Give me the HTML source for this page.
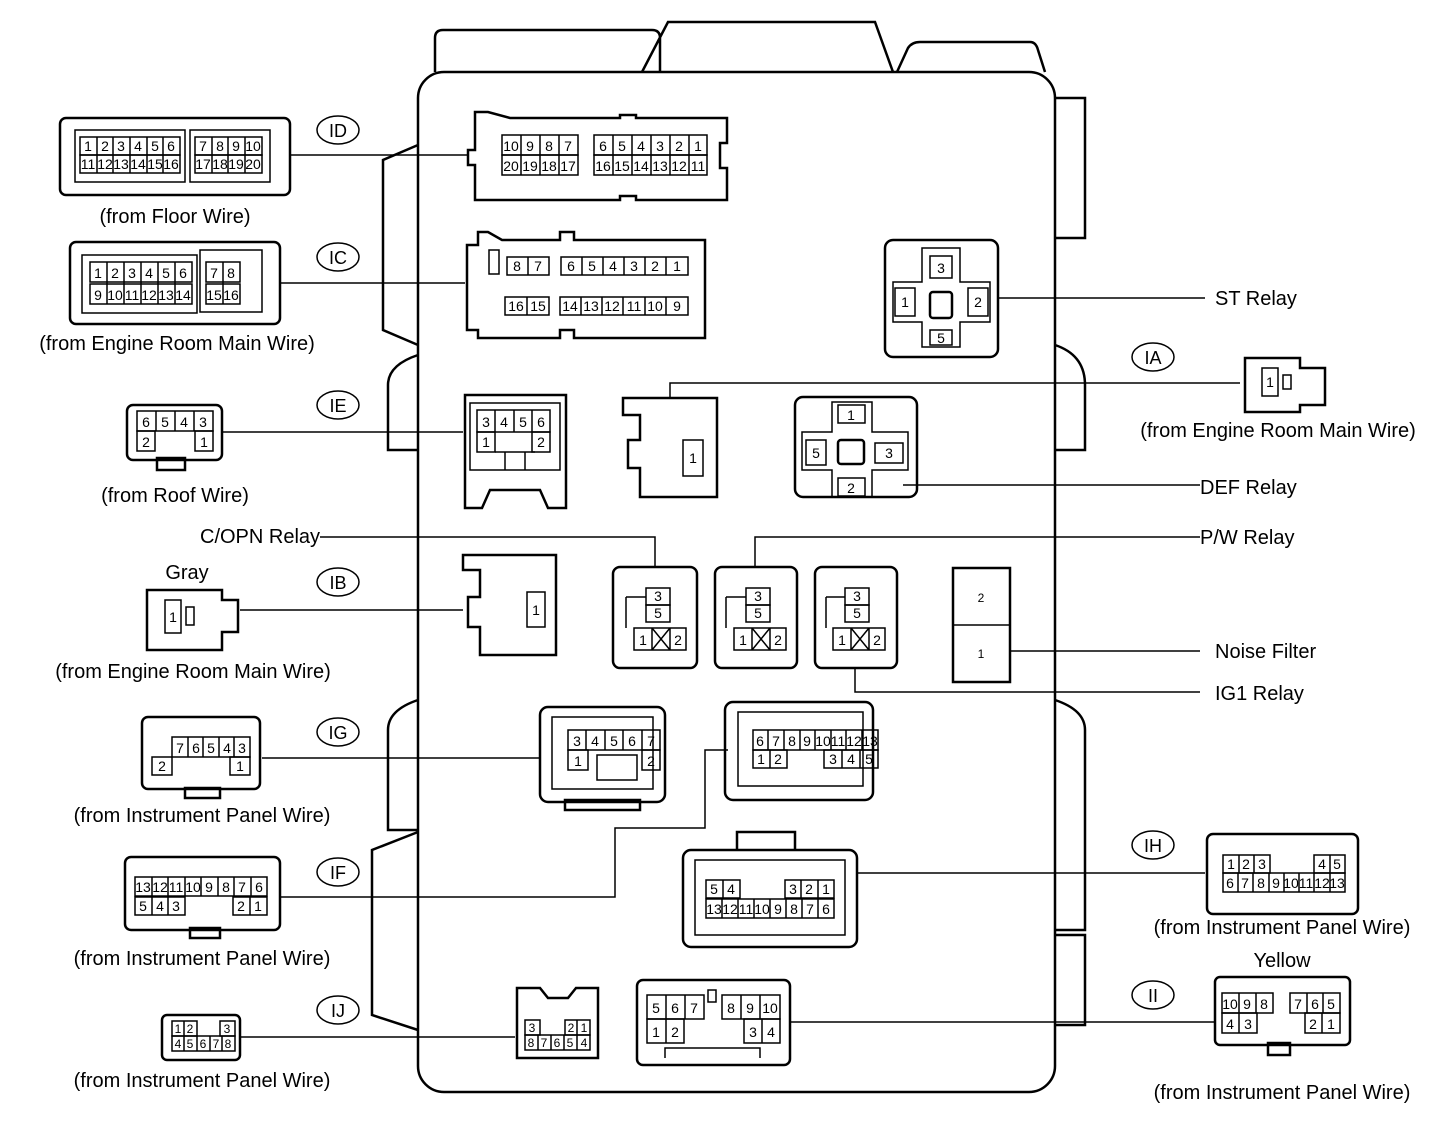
<!DOCTYPE html>
<html><head><meta charset="utf-8"><style>
html,body{margin:0;padding:0;background:#fff}
svg{display:block}
text{font-family:"Liberation Sans",sans-serif;fill:#000}
.l{font-size:20px}
.c{font-size:14px;text-anchor:middle}
.s{fill:none;stroke:#000;stroke-width:2.5}
.t{fill:none;stroke:#000;stroke-width:1.5}
.w{fill:#fff;stroke:#000;stroke-width:2}
</style></head><body>
<svg width="1456" height="1146" viewBox="0 0 1456 1146" xmlns="http://www.w3.org/2000/svg">
<path class="s" d="M435,72 V38 q0,-8 8,-8 H652 q8,0 8,8 V72 M642,72 L668,22 H875 L893,72 M897,72 L908,48 q4,-6 12,-6 H1030 q6,0 8,8 L1045,72"/>
<rect class="s" x="418" y="72" width="637" height="1020" rx="26"/>
<path class="s" d="M1055,98 H1085 V238 H1055 M1055,345 q30,10 30,40 V450 H1055 M1055,700 q30,10 30,30 V930 H1055 M1055,935 H1085 V1025 H1055"/>
<path class="s" d="M418,145 L383,160 V330 L418,345 M418,355 q-30,10 -30,30 V450 H418 M418,700 q-30,10 -30,30 V830 H418 M418,832 L372,850 V1015 L418,1030"/>
<g class="t"><ellipse cx="338" cy="130" rx="21" ry="14"/><ellipse cx="338" cy="257" rx="21" ry="14"/><ellipse cx="338" cy="405" rx="21" ry="14"/><ellipse cx="338" cy="582" rx="21" ry="14"/><ellipse cx="338" cy="732" rx="21" ry="14"/><ellipse cx="338" cy="872" rx="21" ry="14"/><ellipse cx="338" cy="1010" rx="21" ry="14"/><ellipse cx="1153" cy="357" rx="21" ry="14"/><ellipse cx="1153" cy="845" rx="21" ry="14"/><ellipse cx="1153" cy="995" rx="21" ry="14"/></g>
<g style="font-size:18px" text-anchor="middle"><text x="338" y="137">ID</text><text x="338" y="264">IC</text><text x="338" y="412">IE</text><text x="338" y="589">IB</text><text x="338" y="739">IG</text><text x="338" y="879">IF</text><text x="338" y="1017">IJ</text><text x="1153" y="364">IA</text><text x="1153" y="852">IH</text><text x="1153" y="1002">II</text></g>
<g class="t">
<path d="M290,155 H468 M280,283 H465 M222,432 H463 M240,610 H463 M262,758 H540 M280,897 H615 V828 H705 V750 H728 M240,1037 H515 M998,298 H1205 M1240,383 H670 V398 M903,485 H1200 M320,537 H655 V567 M1200,537 H755 V567 M1010,651 H1200 M855,668 V692 H1200 M857,873 H1205 M790,1022 H1215"/>
</g>
<g class="l">
<text x="175" y="223" text-anchor="middle">(from Floor Wire)</text>
<text x="177" y="350" text-anchor="middle">(from Engine Room Main Wire)</text>
<text x="1215" y="305">ST Relay</text>
<text x="1278" y="437" text-anchor="middle">(from Engine Room Main Wire)</text>
<text x="175" y="502" text-anchor="middle">(from Roof Wire)</text>
<text x="1200" y="494">DEF Relay</text>
<text x="200" y="543">C/OPN Relay</text>
<text x="1200" y="544">P/W Relay</text>
<text x="187" y="579" text-anchor="middle">Gray</text>
<text x="193" y="678" text-anchor="middle">(from Engine  Room Main Wire)</text>
<text x="1215" y="658">Noise Filter</text>
<text x="1215" y="700">IG1 Relay</text>
<text x="202" y="822" text-anchor="middle">(from Instrument Panel Wire)</text>
<text x="202" y="965" text-anchor="middle">(from Instrument Panel Wire)</text>
<text x="1282" y="934" text-anchor="middle">(from Instrument Panel Wire)</text>
<text x="1282" y="967" text-anchor="middle">Yellow</text>
<text x="202" y="1087" text-anchor="middle">(from Instrument Panel Wire)</text>
<text x="1282" y="1099" text-anchor="middle">(from Instrument Panel Wire)</text>
</g>

<rect class="s" x="60" y="118" width="230" height="77" rx="6"/>
<rect class="t" x="75" y="130" width="110" height="52"/><rect class="t" x="190" y="130" width="80" height="52"/>
<g class="t">
<rect x="80" y="137" width="100" height="18"/><rect x="80" y="155" width="100" height="18"/>
<path d="M97,137V173M113,137V173M130,137V173M147,137V173M163,137V173"/>
<rect x="195" y="137" width="67" height="18"/><rect x="195" y="155" width="67" height="18"/>
<path d="M212,137V173M228,137V173M245,137V173"/></g>
<g class="c"><text x="88" y="151">1</text><text x="105" y="151">2</text><text x="121" y="151">3</text><text x="138" y="151">4</text><text x="155" y="151">5</text><text x="171" y="151">6</text>
<text x="88" y="169">11</text><text x="105" y="169">12</text><text x="121" y="169">13</text><text x="138" y="169">14</text><text x="155" y="169">15</text><text x="171" y="169">16</text>
<text x="203" y="151">7</text><text x="220" y="151">8</text><text x="236" y="151">9</text><text x="253" y="151">10</text>
<text x="203" y="169">17</text><text x="220" y="169">18</text><text x="236" y="169">19</text><text x="253" y="169">20</text></g>

<path class="s" d="M475,112 H488 L510,118 H620 V115 H636 V118 H727 V143 H720 V168 H727 V200 H636 V196 H620 V200 H475 V165 H468 V150 H475 Z"/>
<g class="t"><rect x="502" y="135" width="76" height="20"/><rect x="502" y="155" width="76" height="20"/><path d="M521,135V175M540,135V175M559,135V175"/>
<rect x="594" y="135" width="113" height="20"/><rect x="594" y="155" width="113" height="20"/><path d="M613,135V175M632,135V175M651,135V175M670,135V175M689,135V175"/></g>
<g class="c"><text x="511" y="151">10</text><text x="530" y="151">9</text><text x="549" y="151">8</text><text x="568" y="151">7</text>
<text x="511" y="171">20</text><text x="530" y="171">19</text><text x="549" y="171">18</text><text x="568" y="171">17</text>
<text x="603" y="151">6</text><text x="622" y="151">5</text><text x="641" y="151">4</text><text x="660" y="151">3</text><text x="679" y="151">2</text><text x="698" y="151">1</text>
<text x="603" y="171">16</text><text x="622" y="171">15</text><text x="641" y="171">14</text><text x="660" y="171">13</text><text x="679" y="171">12</text><text x="698" y="171">11</text></g>

<rect class="s" x="70" y="242" width="210" height="82" rx="6"/>
<rect class="t" x="82" y="255" width="115" height="58"/><rect class="t" x="200" y="250" width="62" height="62"/>
<g class="t"><rect x="90" y="262" width="102" height="20"/><rect x="90" y="284" width="102" height="20"/><path d="M107,262V304M124,262V304M141,262V304M158,262V304M175,262V304"/>
<rect x="206" y="262" width="34" height="20"/><rect x="206" y="284" width="34" height="20"/><path d="M223,262V304"/></g>
<g class="c"><text x="98" y="278">1</text><text x="115" y="278">2</text><text x="132" y="278">3</text><text x="149" y="278">4</text><text x="166" y="278">5</text><text x="183" y="278">6</text>
<text x="98" y="300">9</text><text x="115" y="300">10</text><text x="132" y="300">11</text><text x="149" y="300">12</text><text x="166" y="300">13</text><text x="183" y="300">14</text>
<text x="214" y="278">7</text><text x="231" y="278">8</text><text x="214" y="300">15</text><text x="231" y="300">16</text></g>

<path class="s" d="M467,245 H478 V232 H488 L502,240 H560 V232 H574 V240 H705 V338 H574 V330 H560 V338 H478 V330 H467 Z"/>
<g class="t"><rect x="489" y="250" width="10" height="24"/><rect x="507" y="257" width="42" height="18"/><path d="M528,257V275"/>
<rect x="561" y="257" width="127" height="18"/><path d="M582,257V275M603,257V275M624,257V275M645,257V275M666,257V275"/>
<rect x="505" y="297" width="44" height="18"/><path d="M527,297V315"/>
<rect x="560" y="297" width="128" height="18"/><path d="M581,297V315M602,297V315M623,297V315M645,297V315M666,297V315"/></g>
<g class="c"><text x="517" y="271">8</text><text x="538" y="271">7</text><text x="571" y="271">6</text><text x="592" y="271">5</text><text x="613" y="271">4</text><text x="634" y="271">3</text><text x="655" y="271">2</text><text x="677" y="271">1</text>
<text x="516" y="311">16</text><text x="538" y="311">15</text><text x="570" y="311">14</text><text x="591" y="311">13</text><text x="612" y="311">12</text><text x="634" y="311">11</text><text x="655" y="311">10</text><text x="677" y="311">9</text></g>

<rect class="s" x="885" y="240" width="113" height="117" rx="8"/>
<path class="t" d="M922,248 H960 V282 H990 V322 H960 V347 H922 V322 H893 V282 H922 Z"/>
<rect class="t" x="930" y="256" width="22" height="22"/><rect class="t" x="895" y="288" width="20" height="28"/><rect class="t" x="968" y="288" width="20" height="28"/><rect class="t" x="930" y="330" width="22" height="15"/>
<rect class="s" x="930" y="292" width="22" height="26" rx="3"/>
<g class="c"><text x="941" y="273">3</text><text x="905" y="307">1</text><text x="978" y="307">2</text><text x="941" y="343">5</text></g>

<path class="s" d="M1245,358 H1300 V368 H1325 V405 H1300 V412 H1245 Z"/>
<rect class="t" x="1262" y="368" width="16" height="28"/><rect class="t" x="1283" y="375" width="8" height="14"/>
<text class="c" x="1270" y="387">1</text>

<rect class="s" x="127" y="405" width="95" height="55" rx="6"/><rect class="s" x="157" y="458" width="28" height="12"/>
<g class="t"><rect x="137" y="411" width="76" height="20"/><path d="M156,411V431M175,411V431M194,411V431"/><rect x="137" y="431" width="18" height="20"/><rect x="195" y="431" width="18" height="20"/></g>
<g class="c"><text x="146" y="427">6</text><text x="165" y="427">5</text><text x="184" y="427">4</text><text x="203" y="427">3</text><text x="146" y="447">2</text><text x="204" y="447">1</text></g>

<path class="s" d="M465,395 H566 V508 H548 L540,490 H490 L482,508 H465 Z"/>
<path class="t" d="M470,403 H560 V470 H470 Z M505,452 V470 M525,452 V470 M495,452 H535"/>
<g class="t"><rect x="477" y="410" width="73" height="22"/><path d="M495,410V432M514,410V432M532,410V432"/><rect x="477" y="432" width="18" height="20"/><rect x="532" y="432" width="18" height="20"/></g>
<g class="c"><text x="486" y="427">3</text><text x="504" y="427">4</text><text x="523" y="427">5</text><text x="541" y="427">6</text><text x="486" y="447">1</text><text x="541" y="447">2</text></g>

<path class="s" d="M623,398 H717 V497 H640 V468 H628 V440 H640 V415 H623 Z"/>
<rect class="t" x="683" y="440" width="20" height="36"/><text class="c" x="693" y="463">1</text>

<rect class="s" x="795" y="397" width="122" height="100" rx="8"/>
<path class="t" d="M832,402 H872 V432 H908 V470 H872 V497 H832 V470 H802 V432 H832 Z"/>
<rect class="t" x="838" y="405" width="27" height="18"/><rect class="t" x="806" y="440" width="20" height="25"/><rect class="t" x="875" y="443" width="28" height="20"/><rect class="t" x="838" y="478" width="27" height="18"/>
<rect class="s" x="838" y="440" width="26" height="24" rx="3"/>
<g class="c"><text x="851" y="420">1</text><text x="816" y="458">5</text><text x="889" y="458">3</text><text x="851" y="493">2</text></g>

<path class="s" d="M147,590 H222 V600 H238 V632 H222 V650 H147 Z"/>
<rect class="t" x="165" y="600" width="16" height="33"/><rect class="t" x="186" y="607" width="8" height="18"/>
<text class="c" x="173" y="622">1</text>

<path class="s" d="M463,555 H556 V655 H480 V627 H468 V597 H480 V570 H463 Z"/>
<rect class="t" x="527" y="592" width="18" height="35"/><text class="c" x="536" y="615">1</text>

<g>
<rect class="s" x="613" y="567" width="84" height="101" rx="7"/>
<rect class="t" x="646" y="588" width="24" height="17"/><rect class="t" x="646" y="605" width="24" height="17"/>
<rect class="t" x="634" y="628" width="52" height="22"/><path class="t" d="M652,628V650M670,628V650M652,628L670,650M670,628L652,650"/>
<path class="t" d="M626,597H646M626,597V628"/>
<g class="c"><text x="658" y="601">3</text><text x="658" y="618">5</text><text x="643" y="645">1</text><text x="678" y="645">2</text></g>
</g>
<g>
<rect class="s" x="715" y="567" width="82" height="101" rx="7"/>
<rect class="t" x="746" y="588" width="24" height="17"/><rect class="t" x="746" y="605" width="24" height="17"/>
<rect class="t" x="734" y="628" width="52" height="22"/><path class="t" d="M752,628V650M770,628V650M752,628L770,650M770,628L752,650"/>
<path class="t" d="M726,597H746M726,597V628"/>
<g class="c"><text x="758" y="601">3</text><text x="758" y="618">5</text><text x="743" y="645">1</text><text x="778" y="645">2</text></g>
</g>
<g>
<rect class="s" x="815" y="567" width="82" height="101" rx="7"/>
<rect class="t" x="845" y="588" width="24" height="17"/><rect class="t" x="845" y="605" width="24" height="17"/>
<rect class="t" x="833" y="628" width="52" height="22"/><path class="t" d="M851,628V650M869,628V650M851,628L869,650M869,628L851,650"/>
<path class="t" d="M826,597H845M826,597V628"/>
<g class="c"><text x="857" y="601">3</text><text x="857" y="618">5</text><text x="842" y="645">1</text><text x="877" y="645">2</text></g>
</g>

<rect class="s" x="953" y="568" width="57" height="114"/><path class="t" d="M953,625H1010"/>
<g class="c" style="font-size:12px"><text x="981" y="602">2</text><text x="981" y="658">1</text></g>

<rect class="s" x="142" y="717" width="118" height="72" rx="6"/><rect class="s" x="185" y="788" width="35" height="10"/>
<g class="t"><rect x="172" y="737" width="78" height="20"/><path d="M188,737V757M203,737V757M219,737V757M234,737V757"/><rect x="152" y="757" width="20" height="18"/><rect x="230" y="757" width="20" height="18"/></g>
<g class="c"><text x="180" y="753">7</text><text x="196" y="753">6</text><text x="211" y="753">5</text><text x="227" y="753">4</text><text x="242" y="753">3</text><text x="162" y="771">2</text><text x="240" y="771">1</text></g>

<rect class="s" x="540" y="707" width="125" height="95" rx="8"/><rect class="s" x="565" y="800" width="75" height="10"/>
<rect class="t" x="552" y="717" width="101" height="72"/>
<g class="t"><rect x="568" y="730" width="92" height="20"/><path d="M586,730V750M605,730V750M623,730V750M642,730V750"/><rect x="568" y="750" width="20" height="20"/><rect x="642" y="750" width="18" height="20"/><rect x="597" y="755" width="40" height="25"/></g>
<g class="c"><text x="577" y="746">3</text><text x="595" y="746">4</text><text x="614" y="746">5</text><text x="632" y="746">6</text><text x="651" y="746">7</text><text x="578" y="766">1</text><text x="651" y="766">2</text></g>

<rect class="s" x="725" y="702" width="148" height="98" rx="8"/>
<rect class="t" x="738" y="712" width="125" height="74"/>
<g class="t"><rect x="753" y="730" width="125" height="20"/><path d="M768,730V750M784,730V750M800,730V750M815,730V750M831,730V750M846,730V750M862,730V750"/>
<rect x="753" y="750" width="34" height="18"/><path d="M770,750V768"/><rect x="824" y="750" width="54" height="18"/><path d="M842,750V768M860,750V768"/></g>
<g class="c"><text x="760" y="746">6</text><text x="776" y="746">7</text><text x="792" y="746">8</text><text x="807" y="746">9</text><text x="823" y="746">10</text><text x="838" y="746">11</text><text x="854" y="746">12</text><text x="870" y="746">13</text>
<text x="761" y="764">1</text><text x="778" y="764">2</text><text x="833" y="764">3</text><text x="851" y="764">4</text><text x="869" y="764">5</text></g>

<rect class="s" x="683" y="850" width="174" height="97" rx="8"/>
<path class="s" d="M737,850 V832 H795 V850"/>
<rect class="t" x="695" y="860" width="150" height="75"/>
<g class="t"><rect x="706" y="880" width="34" height="18"/><path d="M723,880V898"/><rect x="785" y="880" width="49" height="18"/><path d="M801,880V898M818,880V898"/>
<rect x="706" y="899" width="128" height="19"/><path d="M722,899V918M738,899V918M754,899V918M770,899V918M786,899V918M802,899V918M818,899V918"/></g>
<g class="c"><text x="714" y="894">5</text><text x="731" y="894">4</text><text x="793" y="894">3</text><text x="809" y="894">2</text><text x="826" y="894">1</text>
<text x="714" y="914">13</text><text x="730" y="914">12</text><text x="746" y="914">11</text><text x="762" y="914">10</text><text x="778" y="914">9</text><text x="794" y="914">8</text><text x="810" y="914">7</text><text x="826" y="914">6</text></g>

<rect class="s" x="125" y="857" width="155" height="73" rx="6"/><rect class="s" x="190" y="928" width="30" height="10"/>
<g class="t"><rect x="135" y="877" width="132" height="19"/><path d="M152,877V896M168,877V896M185,877V896M201,877V896M218,877V896M234,877V896M251,877V896"/>
<rect x="135" y="897" width="50" height="18"/><path d="M152,897V915M168,897V915"/><rect x="233" y="897" width="34" height="18"/><path d="M250,897V915"/></g>
<g class="c"><text x="143" y="892">13</text><text x="160" y="892">12</text><text x="176" y="892">11</text><text x="193" y="892">10</text><text x="209" y="892">9</text><text x="226" y="892">8</text><text x="242" y="892">7</text><text x="259" y="892">6</text>
<text x="143" y="911">5</text><text x="160" y="911">4</text><text x="176" y="911">3</text><text x="241" y="911">2</text><text x="258" y="911">1</text></g>

<rect class="s" x="1207" y="834" width="151" height="80" rx="6"/>
<g class="t"><rect x="1223" y="855" width="47" height="18"/><path d="M1239,855V873M1254,855V873"/><rect x="1314" y="855" width="31" height="18"/><path d="M1330,855V873"/>
<rect x="1223" y="873" width="122" height="19"/><path d="M1238,873V892M1253,873V892M1269,873V892M1284,873V892M1299,873V892M1314,873V892M1330,873V892"/></g>
<g class="c"><text x="1231" y="869">1</text><text x="1246" y="869">2</text><text x="1262" y="869">3</text><text x="1322" y="869">4</text><text x="1337" y="869">5</text>
<text x="1230" y="888">6</text><text x="1245" y="888">7</text><text x="1261" y="888">8</text><text x="1276" y="888">9</text><text x="1291" y="888">10</text><text x="1306" y="888">11</text><text x="1322" y="888">12</text><text x="1337" y="888">13</text></g>

<rect class="s" x="1215" y="977" width="135" height="68" rx="5"/><rect class="s" x="1268" y="1043" width="22" height="12"/>
<g class="t"><rect x="1222" y="993" width="51" height="20"/><path d="M1239,993V1013M1256,993V1013"/><rect x="1290" y="993" width="50" height="20"/><path d="M1307,993V1013M1323,993V1013"/>
<rect x="1222" y="1013" width="35" height="20"/><path d="M1239,1013V1033"/><rect x="1305" y="1013" width="35" height="20"/><path d="M1322,1013V1033"/></g>
<g class="c"><text x="1230" y="1009">10</text><text x="1247" y="1009">9</text><text x="1264" y="1009">8</text><text x="1298" y="1009">7</text><text x="1315" y="1009">6</text><text x="1331" y="1009">5</text>
<text x="1230" y="1029">4</text><text x="1248" y="1029">3</text><text x="1313" y="1029">2</text><text x="1331" y="1029">1</text></g>

<rect class="s" x="162" y="1015" width="78" height="45" rx="5"/>
<g class="t"><rect x="172" y="1021" width="25" height="15"/><path d="M184,1021V1036"/><rect x="220" y="1021" width="15" height="15"/><rect x="172" y="1036" width="63" height="15"/><path d="M184,1036V1051M197,1036V1051M210,1036V1051M222,1036V1051"/></g>
<g class="c" style="font-size:12px"><text x="178" y="1033">1</text><text x="190" y="1033">2</text><text x="227" y="1033">3</text><text x="178" y="1048">4</text><text x="190" y="1048">5</text><text x="203" y="1048">6</text><text x="216" y="1048">7</text><text x="228" y="1048">8</text></g>

<path class="s" d="M517,988 H540 L548,998 H568 L576,988 H598 V1058 H517 Z"/>
<g class="t"><rect x="525" y="1020" width="15" height="15"/><rect x="565" y="1020" width="25" height="15"/><path d="M577,1020V1035"/><rect x="525" y="1035" width="65" height="15"/><path d="M538,1035V1050M551,1035V1050M564,1035V1050M577,1035V1050"/></g>
<g class="c" style="font-size:12px"><text x="532" y="1032">3</text><text x="571" y="1032">2</text><text x="584" y="1032">1</text><text x="531" y="1047">8</text><text x="544" y="1047">7</text><text x="557" y="1047">6</text><text x="570" y="1047">5</text><text x="584" y="1047">4</text></g>

<rect class="s" x="637" y="980" width="153" height="85" rx="6"/>
<g class="t"><rect x="647" y="995" width="57" height="24"/><path d="M666,995V1019M685,995V1019"/><rect x="722" y="995" width="58" height="24"/><path d="M741,995V1019M760,995V1019"/>
<rect x="647" y="1019" width="37" height="24"/><path d="M666,1019V1043"/><rect x="744" y="1019" width="36" height="24"/><path d="M762,1019V1043"/>
<rect x="708" y="990" width="8" height="12"/><path d="M665,1058V1048H760V1058"/></g>
<g class="c"><text x="656" y="1013">5</text><text x="675" y="1013">6</text><text x="694" y="1013">7</text><text x="731" y="1013">8</text><text x="750" y="1013">9</text><text x="770" y="1013">10</text>
<text x="656" y="1037">1</text><text x="675" y="1037">2</text><text x="753" y="1037">3</text><text x="771" y="1037">4</text></g>
</svg>
</body></html>
